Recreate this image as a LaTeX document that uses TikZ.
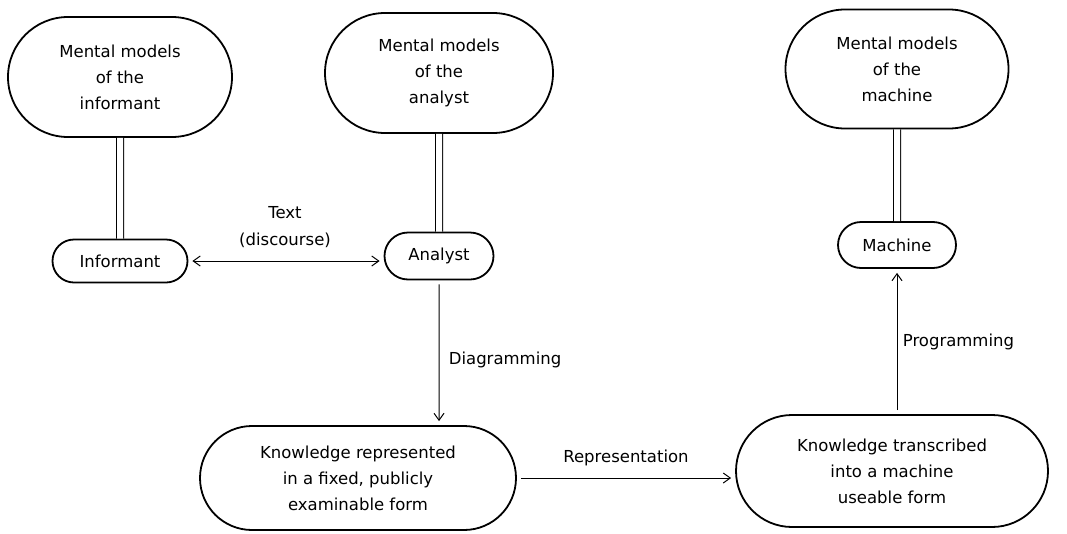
\documentclass[tikz,border=0pt]{standalone}
\usepackage{fontspec}
\setmainfont{DejaVu Sans}
\usetikzlibrary{shapes.misc,arrows.meta,positioning}

\tikzset{
  model/.style={draw, line width=1.8pt, rounded rectangle, align=center,
    font=\fontsize{16.5}{26}\selectfont, minimum width=224pt,
    minimum height=120pt, inner sep=0pt},
  agent/.style={draw, line width=1.8pt, rounded rectangle,
    font=\fontsize{16.5}{26}\selectfont, inner sep=0pt},
  store/.style={draw, line width=1.8pt, rounded rectangle, align=center,
    font=\fontsize{16.5}{26}\selectfont, inner sep=0pt},
  link/.style={line width=1pt, double, double distance=6pt},
  flow/.style={-{Straight Barb[length=7pt,width=10pt]}, line width=1pt,
    shorten >=4pt, shorten <=4pt},
  lbl/.style={align=center, font=\fontsize{16.5}{27}\selectfont}
}

\begin{document}
\begin{tikzpicture}[x=1pt, y=-1pt]
\useasboundingbox (0,0) rectangle (1067,533);

% mental models
\node[model] (mmInf) at (120,77) {Mental models\\of the\\informant};
\node[model, minimum width=228pt] (mmAna) at (439,73) {Mental models\\of the\\analyst};
\node[model, minimum width=223pt, minimum height=119pt] (mmMac) at (897,69) {Mental models\\of the\\machine};

% the three parties
\node[agent, minimum width=135pt, minimum height=43pt] (inf) at (120,261) {Informant};
\node[agent, minimum width=109pt, minimum height=47pt] (ana) at (439,256) {Analyst};
\node[agent, minimum width=118pt, minimum height=46pt] (mac) at (897,245) {Machine};

% knowledge
\node[store, minimum width=316pt, minimum height=104pt] (rep) at (358,478) {Knowledge represented\\in a fixed, publicly\\examinable form};
\node[store, minimum width=312pt, minimum height=112pt] (trans) at (892,471) {Knowledge transcribed\\into a machine\\useable form};

\draw[link] (mmInf) -- (inf);
\draw[link] (mmAna) -- (ana);
\draw[link] (mmMac) -- (mac);

\draw[flow, {Straight Barb[length=7pt,width=10pt]}-{Straight Barb[length=7pt,width=10pt]}]
  (inf.east) -- (inf.east -| ana.west);
\node[lbl] (txt) at (285,227) {Text\\(discourse)};

\draw[flow] (ana) -- (ana |- rep.north) node[lbl, pos=0.55, right=6pt] {Diagramming};
\draw[flow] (rep.east) -- (rep.east -| trans.west) node[lbl, midway, above=8pt] {Representation};
\draw[flow] (trans.north -| mac) -- (mac.south) node[lbl, midway, right=2pt] {Programming};
\end{tikzpicture}
\end{document}
